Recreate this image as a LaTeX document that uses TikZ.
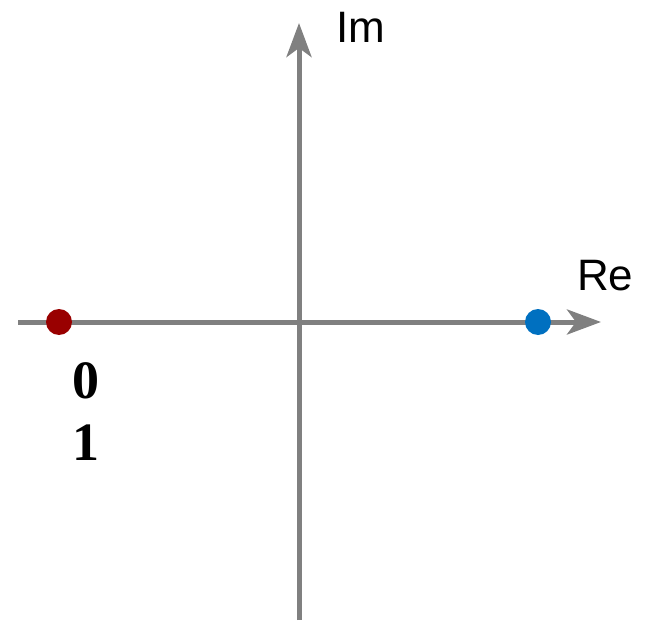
\documentclass[tikz,border=0pt]{standalone}
\usepackage{fontspec}
\setmainfont{Liberation Serif}
\newfontfamily\axisfont{Liberation Sans}
\usetikzlibrary{arrows.meta,positioning}
\definecolor{CPAxis}{HTML}{808080}
\definecolor{CPRed}{HTML}{990000}
\definecolor{CPBlue}{HTML}{0070C0}
\tikzset{
  axis/.style={-{Stealth[length=34pt,width=25pt,inset=9pt]},CPAxis,line width=5pt},
  pole/.style={circle,inner sep=0pt,minimum size=26pt},
  polered/.style={pole,fill=CPRed},
  poleblue/.style={pole,fill=CPBlue},
  axislabel/.style={text=black,font=\axisfont\fontsize{44}{50}\selectfont,inner sep=0pt},
  digit/.style={text=black,font=\fontsize{54}{60}\selectfont\bfseries,inner sep=0pt},
}

\begin{document}
\begin{tikzpicture}[x=1pt,y=-1pt]
    \useasboundingbox (0,0) rectangle (648,623);
    % the complex plane
    \coordinate (reStart) at (18,322);
    \coordinate (reEnd) at (601,322);
    \coordinate (imStart) at (299,620);
    \coordinate (imEnd) at (299,23);
    \draw[axis] (reStart) -- (reEnd);
    \draw[axis] (imStart) -- (imEnd);
    \node[axislabel,anchor=base west] (re) at (577,290) {Re};
    \node[axislabel,anchor=base west] (im) at (336,43) {Im};

    % the two points on the real axis
    \node[polered] (zero) at (59,322) {};
    \node[poleblue] (one) at (538,322) {};
    \node[digit,anchor=base] (labzero) at (86,398) {0};
    \node[digit,anchor=base] (labone) at (86,460) {1};
\end{tikzpicture}
\end{document}
